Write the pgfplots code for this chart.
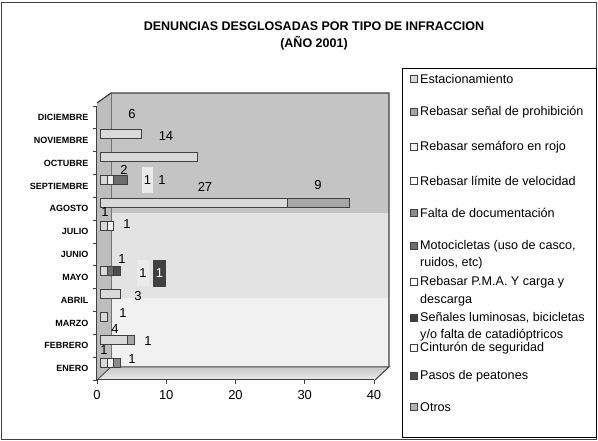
\documentclass[border=0pt]{standalone}
\usepackage{pgfplots}
\pgfplotsset{compat=1.18}
\usepackage{pgfplotstable}
\usepackage{fontspec}
\setmainfont{Liberation Sans}
\definecolor{sA}{HTML}{D9D9D9}
\definecolor{sB}{HTML}{A6A6A6}
\definecolor{sC}{HTML}{F0F0F0}
\definecolor{sD}{HTML}{FFFFFF}
\definecolor{sE}{HTML}{8C8C8C}
\definecolor{sF}{HTML}{6E6E6E}
\definecolor{sG}{HTML}{FFFFFF}
\definecolor{sH}{HTML}{3C3C3C}
\definecolor{sI}{HTML}{F8F8F8}
\definecolor{sJ}{HTML}{4D4D4D}
\definecolor{sK}{HTML}{B3B3B3}
\definecolor{wallTop}{HTML}{C4C4C4}
\definecolor{wallMid}{HTML}{E3E3E3}
\definecolor{wallBot}{HTML}{F1F1F1}
\definecolor{sideWall}{HTML}{BDBDBD}
\definecolor{edge}{HTML}{404040}

\pgfplotstableread{
y s1 s2 s3 s5 s6 s10
0.5 1 0 1 1 0 0
1.5 4 1 0 0 0 0
2.5 1 0 0 0 0 0
3.5 3 0 0 0 0 0
4.5 1 0 0 0 1 1
6.5 1 0 1 0 0 0
7.5 27 9 0 0 0 0
8.5 1 0 1 0 2 0
9.5 14 0 0 0 0 0
10.5 6 0 0 0 0 0
}\datatable

\newcommand{\lbl}[3]{\node[font=\fontsize{13}{13}\selectfont,inner sep=0pt] at (#1pt,#2pt) {#3};}

\begin{document}
\begin{tikzpicture}[x=1pt,y=1pt]
\useasboundingbox (0,0) rectangle (598,441);
% outer frame
\draw[edge,line width=1pt] (1.5,1.5) rectangle (596.5,438.5);
% title
\node[font=\bfseries\fontsize{12.5}{12.5}\selectfont] at (314,415) {DENUNCIAS DESGLOSADAS POR TIPO DE INFRACCION};
\node[font=\bfseries\fontsize{12.5}{12.5}\selectfont] at (314,398) {(AÑO 2001)};
% back wall bands
\fill[wallTop] (111,228) rectangle (389,348);
\fill[wallMid] (111,143) rectangle (389,228);
\fill[wallBot] (111,74) rectangle (389,143);
% left wall
\fill[sideWall] (97,61) -- (97,338) -- (111,348) -- (111,74) -- cycle;
\draw[black!55,line width=0.8pt] (111,74) -- (111,348);
\draw[edge,line width=1.2pt] (97,338) -- (111,348) -- (389,348) -- (389,74);
% floor
\shade[top color=black!22, bottom color=black!8] (97,61) -- (375,61) -- (389,74) -- (111,74) -- cycle;
\draw[edge,line width=1pt] (111,74) -- (389,74) -- (375,61);
\draw[edge,line width=0.8pt] (97,61) -- (111,74);

\begin{axis}[
  at={(97pt,61pt)}, anchor=south west,
  scale only axis, width=277pt, height=274pt,
  xmin=0, xmax=40, ymin=0, ymax=12,
  clip=false,
  axis x line*=bottom, axis y line*=left,
  axis line style={draw=edge, line width=1pt},
  xbar stacked, bar width=9pt,
  tick align=outside, major tick length=4pt,
  tick style={draw=edge, line width=0.8pt},
  xtick={0,10,20,30,40},
  ytick={0,...,12}, yticklabels={},
  extra y ticks={0.5,1.5,2.5,3.5,4.5,5.5,6.5,7.5,8.5,9.5,10.5,11.5},
  extra y tick labels={ENERO,FEBRERO,MARZO,ABRIL,MAYO,JUNIO,JULIO,AGOSTO,SEPTIEMBRE,OCTUBRE,NOVIEMBRE,DICIEMBRE},
  extra y tick style={major tick length=0pt, tick style={draw=none},
     yticklabel style={font=\bfseries\fontsize{9}{9}\selectfont, xshift=-5pt}},
  /pgf/number format/assume math mode=true,
  xticklabel style={font=\fontsize{13}{13}\selectfont, yshift=-3pt},
  every axis plot/.append style={xshift=3pt, yshift=6pt, draw=edge, line width=0.7pt},
]
\addplot[fill=sA] table[x=s1,y=y]{\datatable};
\addplot[fill=sB] table[x=s2,y=y]{\datatable};
\addplot[fill=sC] table[x=s3,y=y]{\datatable};
\addplot[fill=sE] table[x=s5,y=y]{\datatable};
\addplot[fill=sF] table[x=s6,y=y]{\datatable};
\addplot[fill=sJ] table[x=s10,y=y]{\datatable};
\end{axis}

% data labels
\lbl{132}{327}{6}
\lbl{166}{305}{14}
\lbl{124}{271}{2}
\fill[black!8] (142,248) rectangle (153,274);
\lbl{147.5}{261}{1}
\lbl{162}{261}{1}
\lbl{205}{254}{27}
\lbl{318}{256}{9}
\lbl{105}{229}{1}
\lbl{127}{217}{1}
\lbl{122}{182}{1}
\fill[black!8] (137,155) rectangle (149,181);
\lbl{143}{168}{1}
\fill[black!75] (153,154) rectangle (166,181);
\node[font=\fontsize{13}{13}\selectfont,inner sep=0pt,text=white] at (159.5,168) {1};
\lbl{138}{145}{3}
\lbl{123}{128}{1}
\lbl{115}{112}{4}
\lbl{148}{100}{1}
\lbl{104}{91}{1}
\lbl{132}{82}{1}

% legend
\draw[black,line width=1pt] (402,3) rectangle (596,372);
\begin{scope}[every node/.style={font=\fontsize{12.6}{12.6}\selectfont, anchor=west, inner sep=0pt}]
\def\sq#1#2{\draw[edge,line width=0.6pt,fill=#2] (410.5,#1-3.5) rectangle (417.5,#1+3.5);}
\sq{362}{sA}\node at (420,362) {Estacionamiento};
\sq{329}{sB}\node at (420,329) {Rebasar señal de prohibición};
\sq{294}{sC}\node at (420,294) {Rebasar semáforo en rojo};
\sq{260}{sD}\node at (420,260) {Rebasar límite de velocidad};
\sq{228}{sE}\node at (420,228) {Falta de documentación};
\sq{195}{sF}\node at (420,195) {Motocicletas (uso de casco,};
\node at (420,178) {ruidos, etc)};
\sq{159}{sG}\node at (420,159) {Rebasar P.M.A. Y carga y};
\node at (420,141) {descarga};
\sq{123}{sH}\node at (420,123) {Señales luminosas, bicicletas};
\node at (420,106) {y/o falta de catadióptricos};
\sq{93}{sI}\node at (420,93) {Cinturón de seguridad};
\sq{65}{sJ}\node at (420,65) {Pasos de peatones};
\sq{34}{sK}\node at (420,34) {Otros};
\end{scope}
\end{tikzpicture}
\end{document}
